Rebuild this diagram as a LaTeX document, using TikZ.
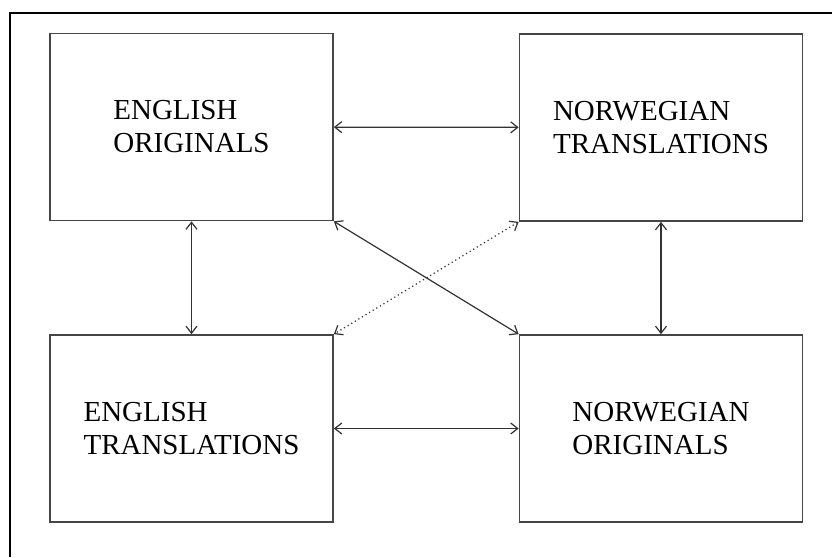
\documentclass[tikz,border=0pt]{standalone}
\usepackage{fontspec}
\setmainfont{Liberation Serif}
\usepackage{xcolor}
\usepackage{tikz}
\usetikzlibrary{arrows.meta,positioning}
\definecolor{boxgray}{RGB}{70,70,70}
\definecolor{arrowgray}{RGB}{50,50,50}

\begin{document}
\begin{tikzpicture}[x=1pt,y=-1pt,>={Straight Barb[length=7pt,width=11pt]},
  corpus/.style={draw=boxgray,line width=1.7pt,minimum width=283pt,minimum height=187pt,
    align=left,inner sep=0pt,text=black,font=\fontsize{29}{33}\selectfont},
  link/.style={<->,arrowgray,line width=1.2pt}]
  \useasboundingbox (0,0) rectangle (832,557);
  % frame (cut off at right and bottom)
  \draw[black,line width=2pt] (9.5,557) |- (832,12.5);
  % the four corpora
  \node[corpus] (engorig) at (191.5,127) {ENGLISH\\ORIGINALS};
  \node[corpus] (nortrans) at (661,127.5) {NORWEGIAN\\TRANSLATIONS};
  \node[corpus] (engtrans) at (191.5,428.5) {ENGLISH\\TRANSLATIONS};
  \node[corpus] (nororig) at (661,428.5) {NORWEGIAN\\ORIGINALS};
  % relations
  \draw[link] (engorig) -- (nortrans);
  \draw[link] (engtrans) -- (nororig);
  \draw[link] (engorig) -- (engtrans);
  \draw[link] (nortrans) -- (nororig);
  \draw[link] (engorig.south east) -- (nororig.north west);
  \draw[link,dash pattern=on 1.2pt off 3pt] (nortrans.south west) -- (engtrans.north east);
\end{tikzpicture}
\end{document}
